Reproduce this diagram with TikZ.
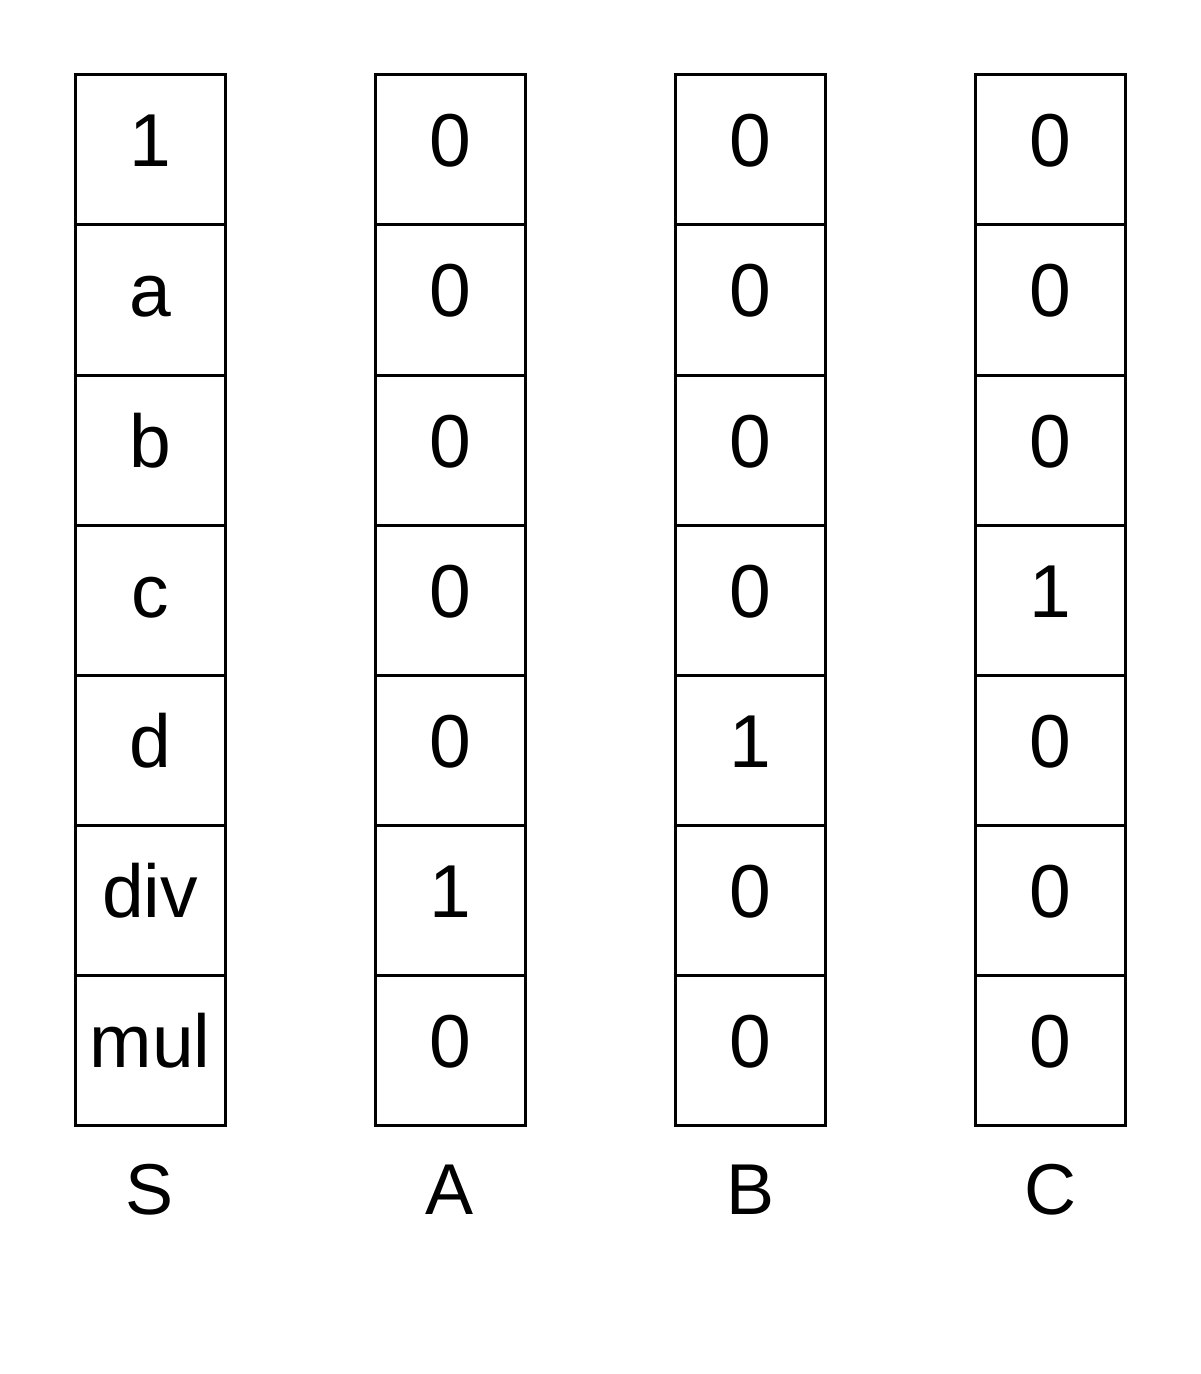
\documentclass[tikz,border=0pt]{standalone}
\usepackage{fontspec}
\setmainfont{Liberation Sans}
\usetikzlibrary{positioning}

\begin{document}
\begin{tikzpicture}[cell/.style={draw, line width=1.5pt, rectangle, minimum size=75pt, inner sep=0pt, outer sep=0pt, text height=28pt, text depth=11pt, font=\fontsize{37.5}{45}\selectfont},
                    lbl/.style={anchor=base, inner sep=0pt, font=\fontsize{36}{43}\selectfont},
                    node distance=0pt]
     \useasboundingbox (0,0) rectangle (600pt,-687pt);
     % column S
     \node[cell] (S1) at (75pt,-75pt) {1};
     \node[cell] (S2) [below=of S1] {a};
     \node[cell] (S3) [below=of S2] {b};
     \node[cell] (S4) [below=of S3] {c};
     \node[cell] (S5) [below=of S4] {d};
     \node[cell] (S6) [below=of S5] {div};
     \node[cell] (S7) [below=of S6] {mul};
     % column A
     \node[cell] (A1) [right=75pt of S1] {0};
     \node[cell] (A2) [below=of A1] {0};
     \node[cell] (A3) [below=of A2] {0};
     \node[cell] (A4) [below=of A3] {0};
     \node[cell] (A5) [below=of A4] {0};
     \node[cell] (A6) [below=of A5] {1};
     \node[cell] (A7) [below=of A6] {0};
     % column B
     \node[cell] (B1) [right=75pt of A1] {0};
     \node[cell] (B2) [below=of B1] {0};
     \node[cell] (B3) [below=of B2] {0};
     \node[cell] (B4) [below=of B3] {0};
     \node[cell] (B5) [below=of B4] {1};
     \node[cell] (B6) [below=of B5] {0};
     \node[cell] (B7) [below=of B6] {0};
     % column C
     \node[cell] (C1) [right=75pt of B1] {0};
     \node[cell] (C2) [below=of C1] {0};
     \node[cell] (C3) [below=of C2] {0};
     \node[cell] (C4) [below=of C3] {1};
     \node[cell] (C5) [below=of C4] {0};
     \node[cell] (C6) [below=of C5] {0};
     \node[cell] (C7) [below=of C6] {0};

     \node[lbl] (labS) [below=44.5pt of S7, anchor=base] {S};
     \node[lbl] (labA) [below=44.5pt of A7, anchor=base] {A};
     \node[lbl] (labB) [below=44.5pt of B7, anchor=base] {B};
     \node[lbl] (labC) [below=44.5pt of C7, anchor=base] {C};
\end{tikzpicture}
\end{document}
